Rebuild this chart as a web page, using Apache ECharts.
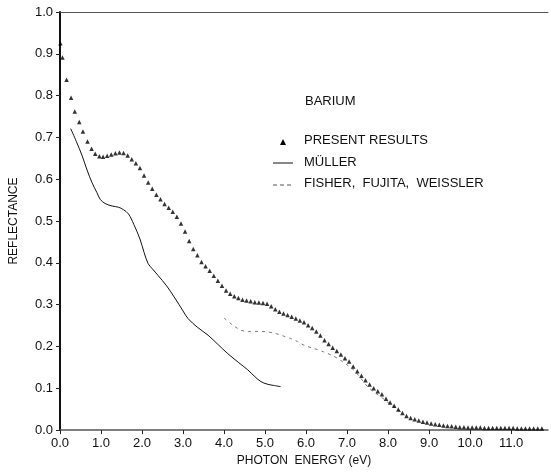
<!DOCTYPE html>
<html><head><meta charset="utf-8">
<script src="https://cdn.jsdelivr.net/npm/echarts@6/dist/echarts.min.js"></script>
<style>html,body{margin:0;padding:0;background:#fff;}#c{width:551px;height:472px;}</style>
</head><body><div id="c"></div>
<script>
// Present results (triangles)
const presentE = [0.01,0.06,0.16,0.27,0.36,0.47,0.56,0.67,0.77,0.86,0.96,1.05,1.15,1.25,1.35,1.45,1.55,1.65,1.75,1.85,1.95,2.05,2.15,2.25,2.35,2.45,2.55,2.65,2.75,2.85,2.95,3.05,3.15,3.25,3.35,3.45,3.55,3.65,3.75,3.85,3.95,4.05,4.15,4.25,4.35,4.45,4.55,4.65,4.75,4.85,4.95,5.05,5.15,5.25,5.35,5.45,5.55,5.65,5.75,5.85,5.95,6.05,6.15,6.25,6.35,6.45,6.55,6.65,6.75,6.85,6.95,7.05,7.15,7.25,7.35,7.45,7.55,7.65,7.75,7.85,7.95,8.05,8.15,8.25,8.35,8.45,8.55,8.65,8.75,8.85,8.95,9.05,9.15,9.25,9.35,9.45,9.55,9.65,9.75,9.85,9.95,10.05,10.15,10.25,10.35,10.45,10.55,10.65,10.75,10.85,10.95,11.05,11.15,11.25,11.35,11.45,11.55,11.65,11.75];
const presentR = [0.925,0.891,0.838,0.795,0.762,0.737,0.714,0.690,0.673,0.661,0.655,0.654,0.656,0.659,0.662,0.664,0.663,0.657,0.648,0.638,0.627,0.609,0.592,0.577,0.563,0.552,0.541,0.532,0.522,0.510,0.494,0.475,0.452,0.433,0.418,0.402,0.392,0.381,0.369,0.357,0.345,0.334,0.326,0.320,0.316,0.312,0.310,0.308,0.306,0.305,0.304,0.302,0.296,0.289,0.283,0.279,0.275,0.271,0.267,0.262,0.258,0.251,0.244,0.236,0.226,0.215,0.206,0.197,0.189,0.181,0.172,0.164,0.152,0.141,0.130,0.119,0.109,0.100,0.093,0.086,0.075,0.066,0.058,0.049,0.041,0.034,0.029,0.026,0.023,0.020,0.018,0.016,0.014,0.013,0.011,0.010,0.009,0.008,0.007,0.007,0.006,0.006,0.006,0.006,0.005,0.005,0.005,0.005,0.005,0.005,0.005,0.005,0.004,0.004,0.004,0.004,0.004,0.004,0.004];
// Müller (solid line)
const mullerE = [0.26,0.40,0.54,0.66,0.78,0.90,0.98,1.10,1.27,1.43,1.55,1.67,1.80,1.95,2.05,2.15,2.25,2.39,2.60,2.80,3.00,3.12,3.35,3.61,3.85,4.09,4.35,4.58,4.75,4.90,5.05,5.20,5.38];
const mullerR = [0.721,0.690,0.656,0.622,0.592,0.568,0.552,0.542,0.536,0.533,0.527,0.517,0.492,0.457,0.425,0.398,0.386,0.370,0.345,0.316,0.285,0.267,0.246,0.227,0.205,0.183,0.162,0.144,0.128,0.116,0.110,0.107,0.104];
// Fisher, Fujita, Weissler (dashed line)
const fisherE = [4.00,4.20,4.41,4.60,4.85,5.05,5.26,5.45,5.62,5.79,5.95,6.20,6.43,6.65,6.84,7.00,7.16,7.32,7.50,7.70,7.90,8.05,8.20,8.40];
const fisherR = [0.268,0.252,0.239,0.236,0.236,0.235,0.231,0.225,0.219,0.212,0.203,0.195,0.187,0.178,0.167,0.156,0.144,0.126,0.104,0.088,0.074,0.062,0.051,0.038];
const yTicks = ['0.0','0.1','0.2','0.3','0.4','0.5','0.6','0.7','0.8','0.9','1.0'];
const xTicks = ['0.0','1.0','2.0','3.0','4.0','5.0','6.0','7.0','8.0','9.0','10.0','11.0'];
const legendNames = ['PRESENT RESULTS','MÜLLER','FISHER,  FUJITA,  WEISSLER'];

const zip = (a,b) => a.map((v,i)=>[v,b[i]]);
const FONT = 'Liberation Sans';
const chart = echarts.init(document.getElementById('c'), null, {renderer:'canvas'});
chart.setOption({
  animation:false,
  backgroundColor:'#fff',
  grid:{left:58,right:3,top:12,bottom:40,containLabel:false},
  xAxis:[{
    type:'value',min:0,max:11.9,interval:1,
    axisLine:{show:true,lineStyle:{color:'#555',width:1.5}},
    axisTick:{show:true,length:4,lineStyle:{color:'#222',width:1}},
    splitLine:{show:false},
    axisLabel:{color:'#111',fontSize:13,fontFamily:FONT,margin:7,showMaxLabel:false,
      formatter:(v)=>{const i=Math.round(v);return Math.abs(v-i)<1e-6?xTicks[i]:'';}},
    name:'PHOTON  ENERGY (eV)',nameLocation:'middle',nameGap:23,
    nameTextStyle:{color:'#111',fontSize:12,fontFamily:FONT}
  },{
    type:'value',min:0,max:11.9,position:'top',
    axisLine:{show:true,onZero:false,lineStyle:{color:'#555',width:1}},
    axisTick:{show:false},axisLabel:{show:false},splitLine:{show:false}
  }],
  yAxis:{
    type:'value',min:0,max:1,interval:0.1,
    axisLine:{show:true,lineStyle:{color:'#111',width:2}},
    axisTick:{show:true,length:4,lineStyle:{color:'#222',width:1}},
    splitLine:{show:false},
    axisLabel:{color:'#111',fontSize:13,fontFamily:FONT,margin:7,
      formatter:(v)=>yTicks[Math.round(v*10)]},
    name:'REFLECTANCE',nameLocation:'middle',nameGap:40,nameRotate:90,
    nameTextStyle:{color:'#111',fontSize:12,fontFamily:FONT}
  },
  series:[
    {name:legendNames[0],type:'scatter',data:zip(presentE,presentR),symbol:'triangle',symbolSize:4.5,
      itemStyle:{color:'#000'},z:5},
    {name:legendNames[1],type:'line',data:zip(mullerE,mullerR),smooth:0.35,showSymbol:false,symbol:'none',
      lineStyle:{color:'#111',width:1}},
    {name:legendNames[2],type:'line',data:zip(fisherE,fisherR),smooth:0.3,showSymbol:false,symbol:'none',
      lineStyle:{color:'#777',width:1,type:[3,4]}}
  ],
  graphic:[
    {type:'text',left:305,top:95,style:{text:'BARIUM',fontSize:13,fontFamily:FONT,fill:'#111'}},
    {type:'polygon',shape:{points:[[280,145],[286,145],[283,139]]},style:{fill:'#000'}},
    {type:'text',left:304,top:134,style:{text:legendNames[0],fontSize:13,fontFamily:FONT,fill:'#111'}},
    {type:'line',shape:{x1:273,y1:163,x2:293,y2:163},style:{stroke:'#111',lineWidth:1}},
    {type:'text',left:304,top:156,style:{text:legendNames[1],fontSize:13,fontFamily:FONT,fill:'#111'}},
    {type:'line',shape:{x1:273,y1:185,x2:293,y2:185},style:{stroke:'#555',lineWidth:1,lineDash:[4,3]}},
    {type:'text',left:304,top:177,style:{text:legendNames[2],fontSize:13,fontFamily:FONT,fill:'#111'}}
  ]
});
</script></body></html>
